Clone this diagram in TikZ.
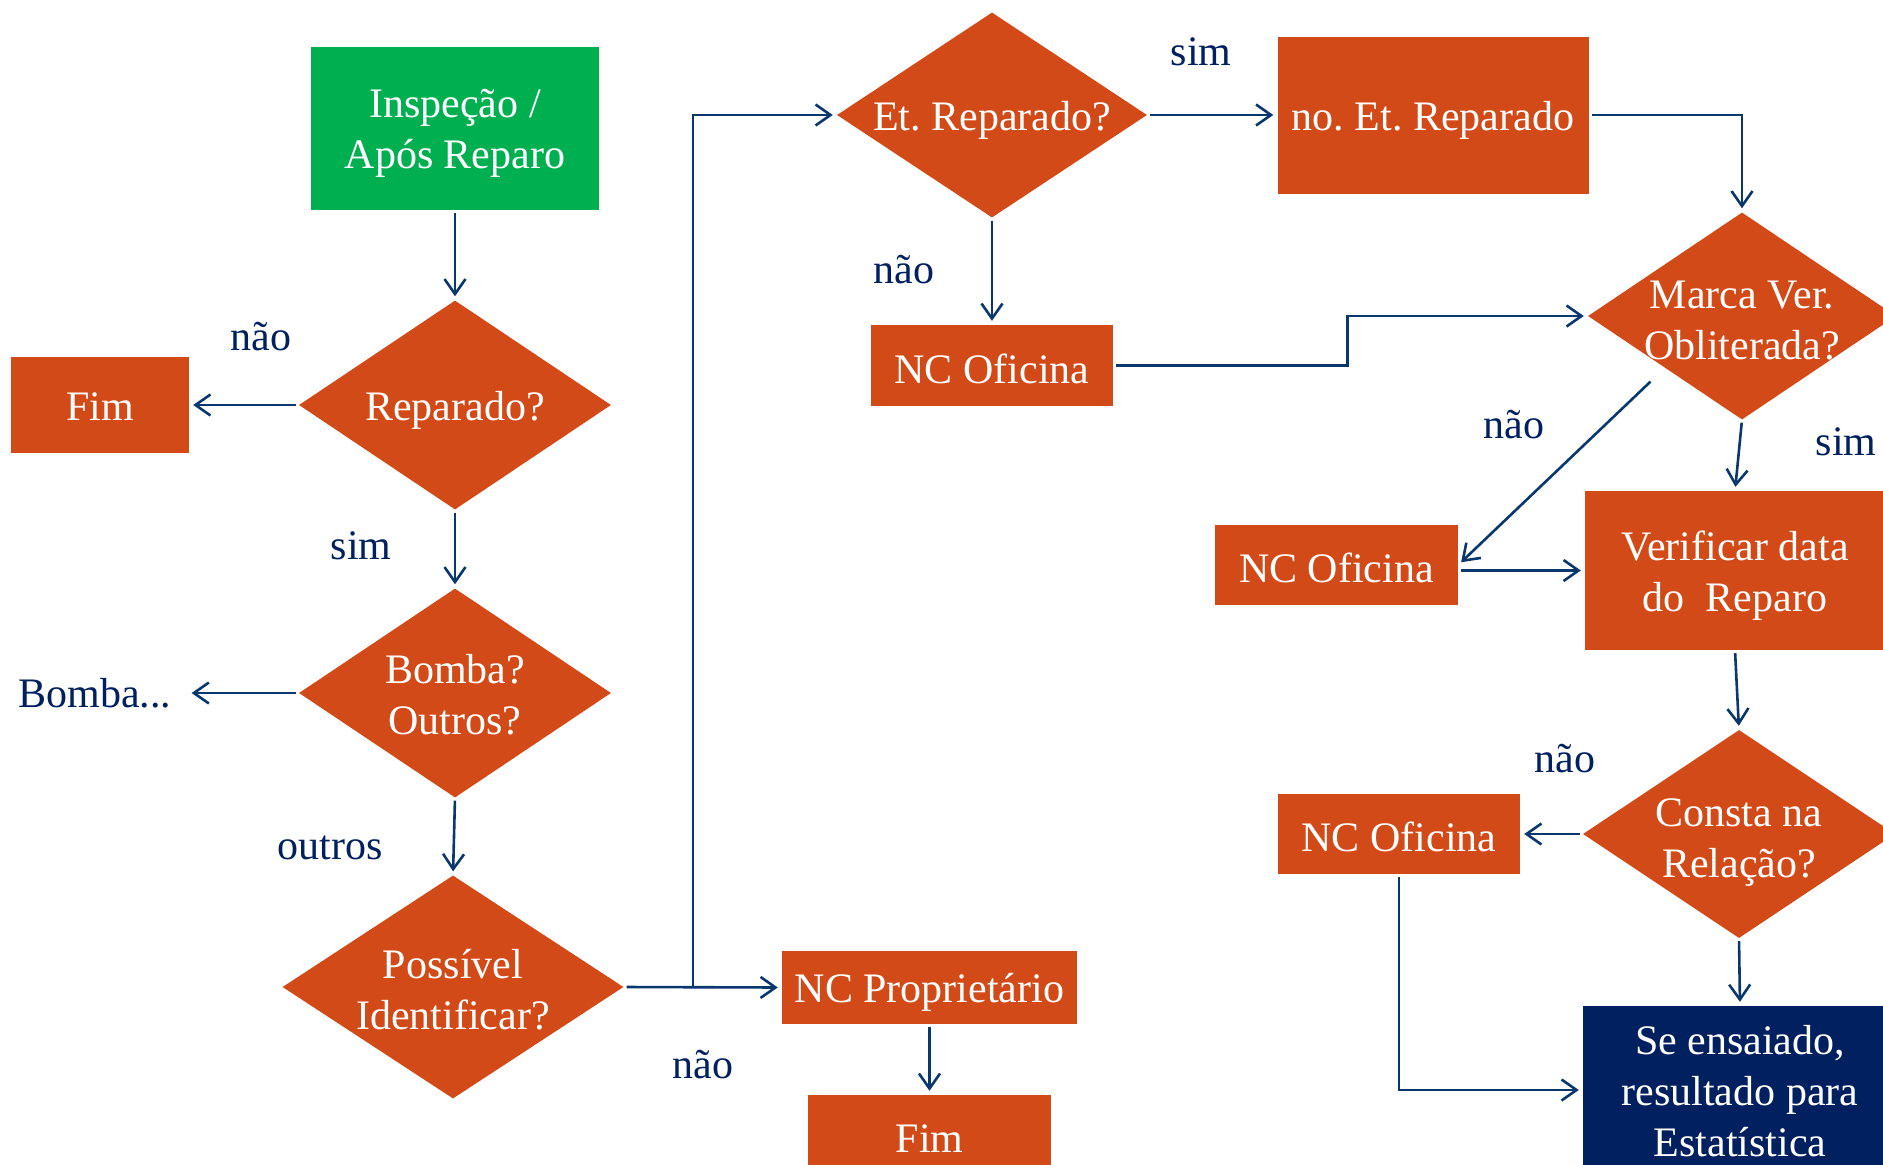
\documentclass[tikz,border=0pt]{standalone}
\usepackage{fontspec}
\setmainfont{Liberation Serif}
\usetikzlibrary{shapes.geometric,arrows.meta}
\definecolor{dorange}{HTML}{D24A18}
\definecolor{dgreen}{HTML}{00B050}
\definecolor{dnavy}{HTML}{002060}
\definecolor{lineblue}{RGB}{10,56,110}
\newcommand\bigf{\fontsize{42}{51}\selectfont\frenchspacing}
\tikzset{
  boxn/.style={rectangle, fill=dorange, inner sep=0pt},
  dia/.style={diamond, fill=dorange, inner sep=0pt},
  dtext/.style={text=white, align=center, font=\bigf, inner sep=0pt, yshift=-5pt},
  lab/.style={text=dnavy, font=\bigf, inner sep=0pt},
  conn/.style={draw=lineblue, line width=2.6pt, shorten <=3pt, shorten >=4pt,
    -{Straight Barb[length=15pt,width=21pt,line width=2.6pt]}},
}
\begin{document}
\begin{tikzpicture}[x=1pt,y=-1pt]
\useasboundingbox (0,0) rectangle (1883,1165);
\clip (0,0) rectangle (1883,1165);
% nodes
\node[boxn, fill=dgreen, minimum width=288pt, minimum height=163pt, label={[dtext]center:{Inspeção /\\Após Reparo}}] (ins) at (455,128.5) {};
\node[dia, minimum width=312pt, minimum height=209pt, label={[dtext]center:Reparado?}] (rep) at (455,405) {};
\node[boxn, minimum width=178pt, minimum height=96pt, label={[dtext, yshift=3pt]center:Fim}] (fim1) at (100,405) {};
\node[dia, minimum width=312pt, minimum height=209pt, label={[dtext, yshift=3pt]center:{Bomba?\\Outros?}}] (bomba) at (455,693) {};
\node[lab, inner sep=2pt] (bombatxt) at (95,693) {Bomba...};
\node[dia, minimum width=341pt, minimum height=223pt, label={[dtext, yshift=2pt]center:{Possível\\Identificar?}}] (poss) at (453,987) {};
\node[boxn, minimum width=295pt, minimum height=73pt, label={[dtext]center:NC Proprietário}] (ncp) at (929.5,987.5) {};
\node[boxn, minimum width=243pt, minimum height=78pt, label={[dtext]center:Fim}] (fim2) at (929.5,1134) {};
\node[dia, minimum width=310pt, minimum height=205pt, label={[dtext]center:Et. Reparado?}] (etr) at (992,115) {};
\node[boxn, minimum width=311pt, minimum height=157pt, label={[dtext]center:no. Et. Reparado}] (noet) at (1433,115) {};
\node[boxn, minimum width=242pt, minimum height=81pt, label={[dtext, yshift=2pt]center:NC Oficina}] (nc1) at (992,365.5) {};
\node[dia, minimum width=308pt, minimum height=207pt, label={[dtext]center:{Marca Ver.\\Obliterada?}}] (marca) at (1742,316) {};
\node[boxn, minimum width=243pt, minimum height=80pt, label={[dtext, yshift=2pt]center:NC Oficina}] (nc2) at (1336.5,565) {};
\node[boxn, minimum width=300pt, minimum height=159pt, label={[dtext]center:{Verificar data\\do\ \ Reparo}}] (ver) at (1735,570.5) {};
\node[dia, minimum width=312pt, minimum height=208pt, label={[dtext, yshift=-4pt]center:{Consta na\\Relação?}}] (consta) at (1739,834) {};
\node[boxn, minimum width=242pt, minimum height=80pt, label={[dtext, yshift=2pt]center:NC Oficina}] (nc3) at (1399,834) {};
\node[boxn, fill=dnavy, minimum width=314pt, minimum height=168pt, label={[dtext, yshift=4pt]center:{Se ensaiado,\\resultado para\\Estatística}}] (se) at (1740,1090) {};
% edge labels
\node[lab] (l1) at (261,337) {não};
\node[lab] (l2) at (361,546) {sim};
\node[lab] (l3) at (330,848) {outros};
\node[lab] (l4) at (703,1065) {não};
\node[lab] (l5) at (1201,52) {sim};
\node[lab] (l6) at (904,270) {não};
\node[lab] (l7) at (1514,425) {não};
\node[lab] (l8) at (1846,442) {sim};
\node[lab] (l9) at (1565,759) {não};
% connectors
\draw[conn] (ins.south) -- (rep.north);
\draw[conn] (rep.west) -- (fim1.east);
\draw[conn] (rep.south) -- (bomba.north);
\draw[conn, shorten >=18pt] (bomba.west) -- (bombatxt.east);
\draw[conn] (bomba.south) -- (poss.north);
\draw[conn] (poss.east) -- (ncp.west);
\coordinate (j) at (693,987);
\draw[conn, shorten <=0pt] (j) |- (etr.west);
\draw[conn] (ncp.south) -- (fim2.north);
\draw[conn] (etr.east) -- (noet.west);
\draw[conn] (etr.south) -- (nc1.north);
\draw[conn] (noet.east) -| (marca.north);
\draw[conn] (nc1.east) -- ++(234,0) |- (marca.west);
\draw[conn, shorten <=20pt] (marca.south west) -- (nc2.east);
\draw[conn] (marca.south) -- (ver.north);
\draw[conn] (nc2.east |- ver.west) -- (ver.west);
\draw[conn] (ver.south) -- (consta.north);
\draw[conn] (consta.west) -- (nc3.east);
\draw[conn] (consta.south) -- (se.north);
\draw[conn] (nc3.south) |- (se.west);
\end{tikzpicture}
\end{document}
